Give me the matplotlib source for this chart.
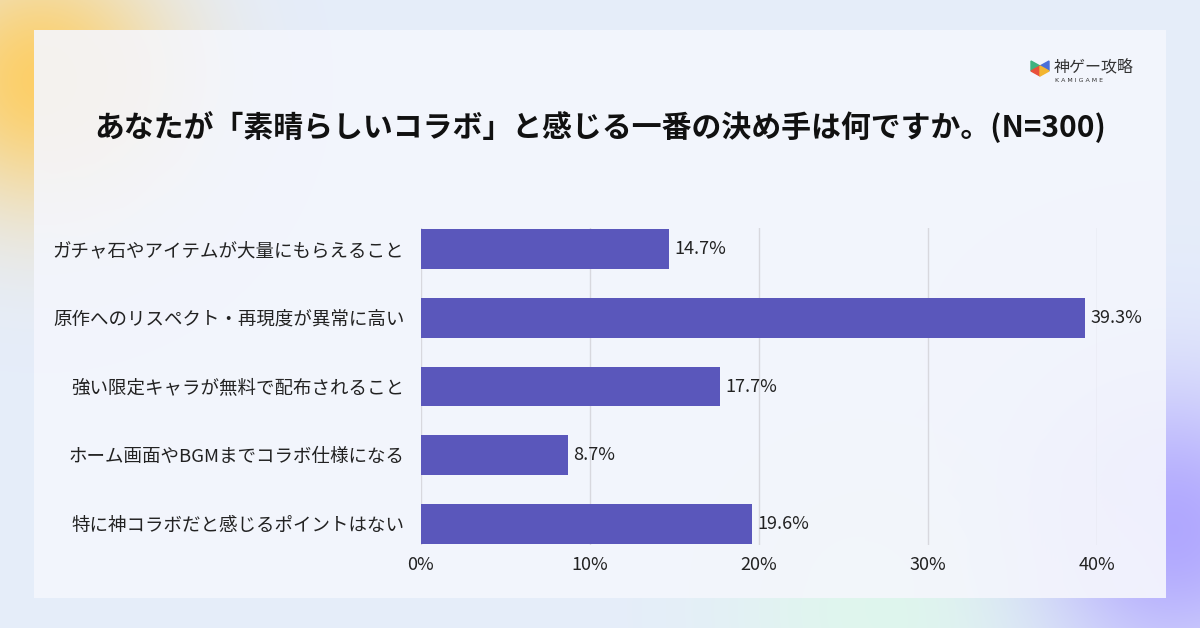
import numpy as np
import matplotlib.pyplot as plt
from matplotlib.patches import FancyBboxPatch, Polygon

plt.rcParams['font.family'] = ['Noto Sans CJK JP', 'DejaVu Sans']

title = 'あなたが「素晴らしいコラボ」と感じる一番の決め手は何ですか。(N=300)'
categories = [
    'ガチャ石やアイテムが大量にもらえること',
    '原作へのリスペクト・再現度が異常に高い',
    '強い限定キャラが無料で配布されること',
    'ホーム画面やBGMまでコラボ仕様になる',
    '特に神コラボだと感じるポイントはない',
]
values = [14.7, 39.3, 17.7, 8.7, 19.6]
xticks = [0, 10, 20, 30, 40]

W, H = 1200, 628
fig = plt.figure(figsize=(W / 100, H / 100), dpi=100)

# soft background with coloured blobs
bg = fig.add_axes([0, 0, 1, 1])
yy, xx = np.mgrid[0:H, 0:W]
img = np.ones((H, W, 3)) * np.array([0.90, 0.93, 0.98])
def blob(cx, cy, r, col, strength):
    d = np.exp(-((xx - cx) ** 2 + (yy - cy) ** 2) / (2 * r ** 2)) * strength
    for i in range(3):
        img[:, :, i] = img[:, :, i] * (1 - d) + col[i] * d
blob(40, 80, 90, (1.0, 0.80, 0.35), 0.9)
blob(1170, 530, 100, (0.68, 0.64, 1.0), 0.95)
blob(880, 610, 110, (0.85, 1.0, 0.88), 0.5)
bg.imshow(img, extent=[0, W, H, 0], aspect='auto')
bg.set_xlim(0, W)
bg.set_ylim(H, 0)
bg.axis('off')

# card
card = FancyBboxPatch((34, 30), 1132, 568, boxstyle='square,pad=0',
                      facecolor='#f4f6fd', edgecolor='none', alpha=0.9)
bg.add_patch(card)
bimg = np.zeros((H, W, 4))
d1 = np.exp(-((xx - 90) ** 2 + (yy - 70) ** 2) / (2 * 75 ** 2))
bimg[:, :, 0], bimg[:, :, 1], bimg[:, :, 2] = 1.0, 0.82, 0.45
bimg[:, :, 3] = d1 * 0.6
bg.imshow(bimg, extent=[0, W, H, 0], aspect='auto', clip_path=card)
bimg2 = np.zeros((H, W, 4))
d2 = np.exp(-((xx - 1120) ** 2 + (yy - 570) ** 2) / (2 * 80 ** 2))
bimg2[:, :, 0], bimg2[:, :, 1], bimg2[:, :, 2] = 0.88, 0.82, 1.0
bimg2[:, :, 3] = d2 * 0.7
bg.imshow(bimg2, extent=[0, W, H, 0], aspect='auto', clip_path=card)
bimg3 = np.zeros((H, W, 4))
d3 = np.exp(-((xx - 860) ** 2 + (yy - 590) ** 2) / (2 * 90 ** 2))
bimg3[:, :, 0], bimg3[:, :, 1], bimg3[:, :, 2] = 0.93, 0.98, 0.85
bimg3[:, :, 3] = d3 * 0.6
bg.imshow(bimg3, extent=[0, W, H, 0], aspect='auto', clip_path=card)

# logo
cols = ['#e8503a', '#3fb27f', '#4a6fd8', '#f3b530']
bg.add_patch(Polygon([[1031, 61], [1040, 66], [1031, 71]], color=cols[1]))
bg.add_patch(Polygon([[1040, 66], [1049, 61], [1049, 71]], color=cols[2]))
bg.add_patch(Polygon([[1031, 71], [1040, 66], [1040, 76]], color=cols[0]))
bg.add_patch(Polygon([[1040, 66], [1049, 71], [1040, 76]], color=cols[3]))
bg.text(1054, 67, '神ゲー攻略', fontsize=11.5, color='#333333',
        va='center', ha='left')
bg.text(1055, 80, 'K A M I G A M E', fontsize=4.5, color='#333333',
        va='center', ha='left', family='DejaVu Sans')

fig.text(0.5, 1 - 127 / H, title, fontsize=21.5, fontweight='bold',
         ha='center', va='center', color='#111111')

ax = fig.add_axes([421 / W, 1 - 545 / H, (1097 - 421) / W, (545 - 228) / H])
ax.set_facecolor('none')
ypos = np.arange(len(categories))
ax.barh(ypos, values, height=0.58, color='#5a57bb', zorder=3)
for y, v in zip(ypos, values):
    ax.text(v + 0.3, y, f'{v}%', va='center', ha='left', fontsize=13,
            color='#222222')
ax.set_xlim(0, 40)
ax.set_ylim(len(categories) - 1 + 0.305, -0.305)
ax.set_xticks(xticks)
ax.set_xticklabels([f'{t}%' for t in xticks], fontsize=13, color='#222222')
ax.set_yticks(ypos)
ax.set_yticklabels(categories, fontsize=13.3, color='#222222')
ax.tick_params(axis='both', length=0)
ax.tick_params(axis='x', pad=8)
ax.tick_params(axis='y', pad=12)
ax.grid(axis='x', color='#d8d8de', linewidth=1, zorder=0)
for s in ax.spines.values():
    s.set_visible(False)

fig.savefig('out.png', dpi=100)
